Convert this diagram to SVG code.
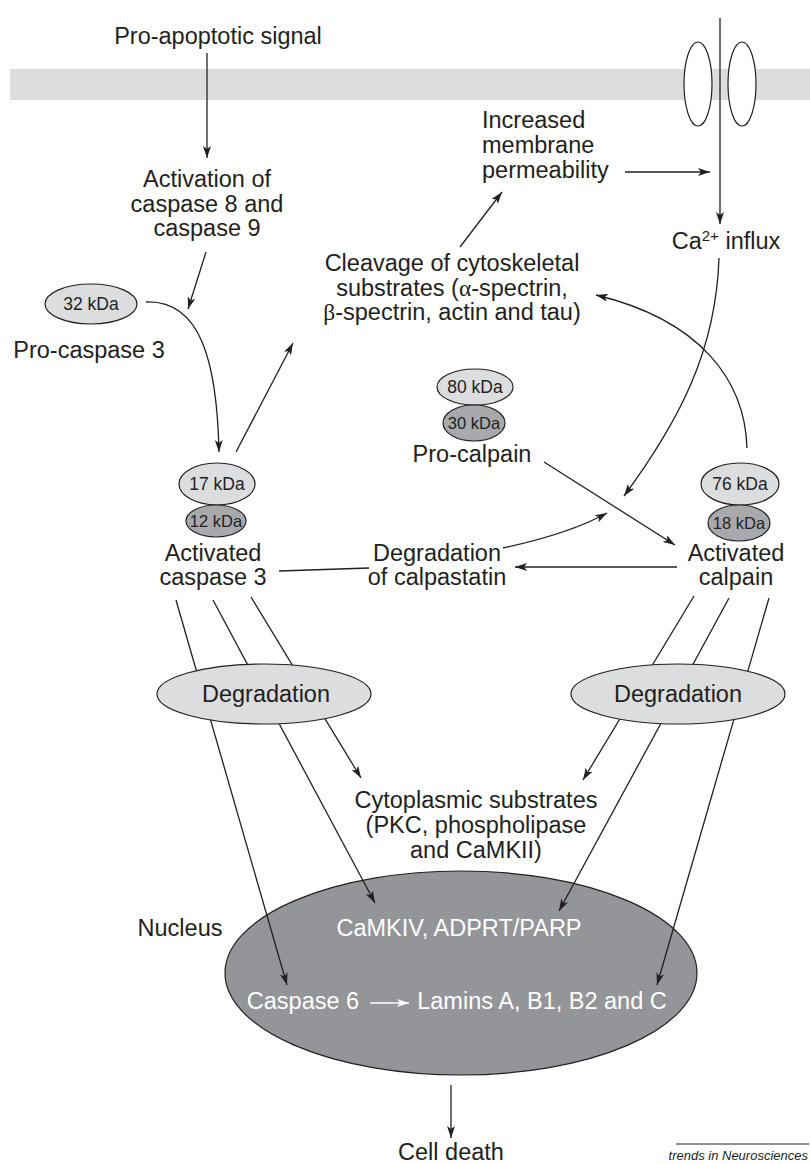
<svg xmlns="http://www.w3.org/2000/svg" width="810" height="1164" viewBox="0 0 810 1164">
<style>
.t{font-family:"Liberation Sans",Arial,sans-serif;font-size:23.5px;fill:#231f20;text-anchor:middle}
.k{font-family:"Liberation Sans",Arial,sans-serif;font-size:17.5px;fill:#231f20;text-anchor:middle}
.w{font-family:"Liberation Sans",Arial,sans-serif;font-size:23.5px;fill:#ffffff;text-anchor:middle}
.g{font-family:"Liberation Serif",serif}
.ln{fill:none;stroke:#231f20;stroke-width:1.3}
.ar{fill:none;stroke:#231f20;stroke-width:1.3;marker-end:url(#ah)}
.light{fill:#dcdddf;stroke:#231f20;stroke-width:1.2}
.dark{fill:#a7a9ac;stroke:#231f20;stroke-width:1.2}
</style>
<defs>
<marker id="ah" viewBox="0 0 12 8" refX="12" refY="4" markerWidth="12" markerHeight="8" orient="auto" markerUnits="userSpaceOnUse"><path d="M0,0 L12,4 L0,8 L3,4 z" fill="#231f20"/></marker>
<marker id="ahw" viewBox="0 0 12 8" refX="12" refY="4" markerWidth="12" markerHeight="8" orient="auto" markerUnits="userSpaceOnUse"><path d="M0,0 L12,4 L0,8 L3,4 z" fill="#ffffff"/></marker>
</defs>
<rect width="810" height="1164" fill="#ffffff"/>
<g id="membrane">
<rect x="10" y="69" width="800" height="31" fill="#dcdddf"/>
</g>
<g id="channel">
<ellipse cx="698" cy="84" rx="14" ry="42" fill="#ffffff" stroke="#231f20" stroke-width="1.2"/>
<ellipse cx="742" cy="84" rx="14" ry="42" fill="#ffffff" stroke="#231f20" stroke-width="1.2"/>
</g>
<g id="nucleus">
<ellipse cx="461" cy="973" rx="236" ry="102" fill="#939598" stroke="#231f20" stroke-width="1.2"/>
<text class="w" x="459" y="936">CaMKIV, ADPRT/PARP</text>
<text class="w" x="303" y="1009">Caspase 6</text>
<text class="w" x="542" y="1009">Lamins A, B1, B2 and C</text>
</g>
<g id="connectors">
<path class="ar" d="M207,53 L207,158"/>
<path class="ar" d="M206,252 L188,309"/>
<path class="ar" d="M146,302 C200,300 217,360 219,452"/>
<path class="ar" d="M236,452 L293,343"/>
<path class="ar" d="M460,247 L502,192"/>
<path class="ar" d="M625,172 L710,172"/>
<path class="ar" d="M720,18 L720,224"/>
<path class="ar" d="M719,258 C716,350 680,420 624,496"/>
<path class="ar" d="M747,448 C745,380 700,320 596,295"/>
<path class="ar" d="M544,462 L675,545"/>
<path class="ar" d="M677,567 L515,567"/>
<path class="ln" d="M279,571 L369,568"/>
<path class="ar" d="M503,548 C540,540 580,528 607,513"/>
<path class="ar" d="M176,600 L287,985"/>
<path class="ar" d="M213,600 L375,903"/>
<path class="ar" d="M251,597 L361,778"/>
<path class="ar" d="M694,596 L583,780"/>
<path class="ar" d="M729,598 L559,911"/>
<path class="ar" d="M769,598 L657,985"/>
<path d="M370,1003 L409,1003" fill="none" stroke="#ffffff" stroke-width="1.3" marker-end="url(#ahw)"/>
<path class="ar" d="M451,1085 L451,1138"/>
</g>
<g id="degradation-caspase">
<ellipse class="light" cx="264" cy="694" rx="107" ry="30"/>
<text class="t" x="266" y="702">Degradation</text>
</g>
<g id="degradation-calpain">
<ellipse class="light" cx="678" cy="694" rx="107" ry="30"/>
<text class="t" x="678" y="702">Degradation</text>
</g>
<g id="signal"><text class="t" x="218" y="44">Pro-apoptotic signal</text></g>
<g id="activation">
<text class="t" x="207" y="187">Activation of</text>
<text class="t" x="207" y="212">caspase 8 and</text>
<text class="t" x="207" y="236">caspase 9</text>
</g>
<g id="permeability">
<text class="t" x="482" y="128" style="text-anchor:start">Increased</text>
<text class="t" x="482" y="153" style="text-anchor:start">membrane</text>
<text class="t" x="482" y="178" style="text-anchor:start">permeability</text>
</g>
<g id="ca-influx">
<text class="t" x="726" y="249">Ca<tspan font-size="15" dy="-8">2+</tspan><tspan dy="8"> influx</tspan></text>
</g>
<g id="cleavage">
<text class="t" x="452" y="271">Cleavage of cytoskeletal</text>
<text class="t" x="452" y="296">substrates (<tspan class="g">α</tspan>-spectrin,</text>
<text class="t" x="452" y="320"><tspan class="g">β</tspan>-spectrin, actin and tau)</text>
</g>
<g id="pro-caspase3">
<ellipse class="light" cx="91" cy="304" rx="46" ry="20"/>
<text class="k" x="91" y="310">32 kDa</text>
<text class="t" x="89" y="358">Pro-caspase 3</text>
</g>
<g id="pro-calpain">
<ellipse class="light" cx="475" cy="387" rx="38" ry="18"/>
<text class="k" x="475" y="393">80 kDa</text>
<ellipse class="dark" cx="474" cy="423" rx="31" ry="18"/>
<text class="k" x="474" y="429" style="font-size:16.5px">30 kDa</text>
<text class="t" x="472" y="462">Pro-calpain</text>
</g>
<g id="activated-caspase3">
<ellipse class="light" cx="217" cy="484" rx="38" ry="21"/>
<text class="k" x="217" y="490">17 kDa</text>
<ellipse class="dark" cx="216" cy="521" rx="30" ry="16"/>
<text class="k" x="216" y="527" style="font-size:16.5px">12 kDa</text>
<text class="t" x="213" y="561">Activated</text>
<text class="t" x="213" y="585">caspase 3</text>
</g>
<g id="activated-calpain">
<ellipse class="light" cx="740" cy="484" rx="39" ry="21"/>
<text class="k" x="740" y="490">76 kDa</text>
<ellipse class="dark" cx="739" cy="523" rx="31" ry="18"/>
<text class="k" x="739" y="529" style="font-size:16.5px">18 kDa</text>
<text class="t" x="736" y="561">Activated</text>
<text class="t" x="736" y="585">calpain</text>
</g>
<g id="calpastatin">
<text class="t" x="437" y="561">Degradation</text>
<text class="t" x="437" y="585">of calpastatin</text>
</g>
<g id="cytoplasmic">
<text class="t" x="476" y="808">Cytoplasmic substrates</text>
<text class="t" x="476" y="833">(PKC, phospholipase</text>
<text class="t" x="476" y="858">and CaMKII)</text>
</g>
<g id="nucleus-label"><text class="t" x="180" y="936">Nucleus</text></g>
<g id="cell-death"><text class="t" x="451" y="1160">Cell death</text></g>
<g id="credit">
<line x1="676" y1="1144" x2="809" y2="1144" stroke="#231f20" stroke-width="1"/>
<text x="808" y="1160" style="font-family:'Liberation Sans',Arial,sans-serif;font-size:13px;font-style:italic;fill:#231f20;text-anchor:end">trends in Neurosciences</text>
</g>
</svg>
